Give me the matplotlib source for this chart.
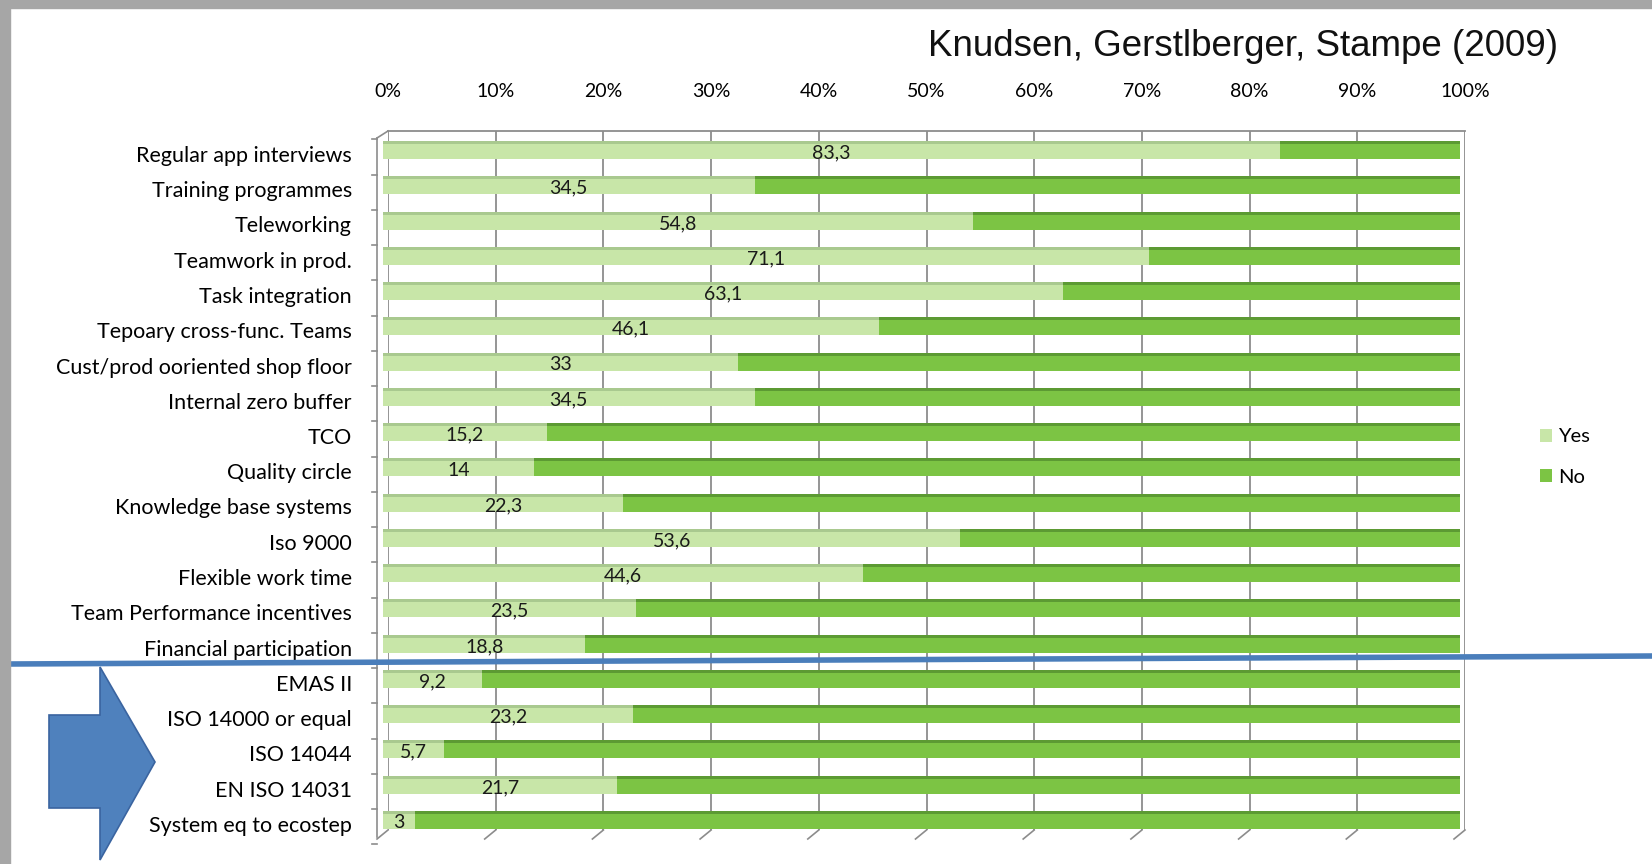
import numpy as np
import matplotlib
matplotlib.use("Agg")
import matplotlib.pyplot as plt
from matplotlib.patches import Patch, Polygon, Rectangle
from matplotlib.lines import Line2D
from matplotlib.transforms import ScaledTranslation

# ---------------------------------------------------------------------------
# Data (share of firms using each practice, %)
# ---------------------------------------------------------------------------

categories = [
    "Regular app interviews", "Training programmes", "Teleworking",
    "Teamwork in prod.", "Task integration", "Tepoary cross-func. Teams",
    "Cust/prod ooriented shop floor", "Internal zero buffer", "TCO",
    "Quality circle", "Knowledge base systems", "Iso 9000",
    "Flexible work time", "Team Performance incentives",
    "Financial participation", "EMAS II", "ISO 14000 or equal",
    "ISO 14044", "EN ISO 14031", "System eq to ecostep",
]
yes_values = [83.3, 34.5, 54.8, 71.1, 63.1, 46.1, 33, 34.5, 15.2, 14,
              22.3, 53.6, 44.6, 23.5, 18.8, 9.2, 23.2, 5.7, 21.7, 3]
no_values = [100 - v for v in yes_values]
x_ticks = [0, 10, 20, 30, 40, 50, 60, 70, 80, 90, 100]
x_tick_labels = [f"{t}%" for t in x_ticks]
series_names = ["Yes", "No"]
title = "Knudsen, Gerstlberger, Stampe (2009)"

# ---------------------------------------------------------------------------
# Style
# ---------------------------------------------------------------------------

W, H, DPI = 1652, 864, 100
YES_COLOR, YES_TOP = "#c8e6a8", "#a9c98f"
NO_COLOR, NO_TOP = "#7cc444", "#5c9a33"
GRID_COLOR = "#8c8c8c"
BLUE = "#4a7ebb"
LABEL_FONT = ["Lato", "DejaVu Sans"]
TITLE_FONT = ["Liberation Sans", "DejaVu Sans"]

fig = plt.figure(figsize=(W / DPI, H / DPI), dpi=DPI)
fig.patch.set_facecolor("white")

# back wall of the (pseudo 3D) plot area, in pixels
left, right, top, bottom = 388, 1465, 131, 830
ax = fig.add_axes([left / W, 1 - bottom / H, (right - left) / W, (bottom - top) / H])

n = len(categories)
y = np.arange(n)
row_px = 35.25
ax.set_xlim(0, 100)
ax.set_ylim((bottom - 150) / row_px, (top - 150) / row_px)

bar_h = 18 / row_px
top_h = 3 / row_px
bar_shift = ax.transData + ScaledTranslation(-5 / DPI, 0, fig.dpi_scale_trans)
text_shift = ax.transData + ScaledTranslation(-5 / DPI, -3 / DPI, fig.dpi_scale_trans)

yes_bars = ax.barh(y, yes_values, height=bar_h, color=YES_COLOR, zorder=3)
no_bars = ax.barh(y, no_values, left=yes_values, height=bar_h, color=NO_COLOR, zorder=3)
yes_tops = ax.barh(y - bar_h / 2 + top_h / 2, yes_values, height=top_h, color=YES_TOP, zorder=4)
no_tops = ax.barh(y - bar_h / 2 + top_h / 2, no_values, left=yes_values, height=top_h,
                  color=NO_TOP, zorder=4)
for group in (yes_bars, no_bars, yes_tops, no_tops):
    for p in group:
        p.set_transform(bar_shift)
        p.set_clip_on(False)

for yi, v in zip(y, yes_values):
    ax.text(v / 2, yi, f"{v:g}".replace(".", ","), ha="center", va="center",
            fontsize=14, family=LABEL_FONT, color="#1a1a1a", zorder=5,
            transform=text_shift, clip_on=False)

# axes, grid, ticks
for s in ax.spines.values():
    s.set_visible(False)
ax.spines["top"].set_visible(True)
ax.spines["top"].set_color(GRID_COLOR)
ax.spines["top"].set_linewidth(1.3)
ax.set_xticks(x_ticks)
ax.set_xticklabels(x_tick_labels, family=LABEL_FONT, fontsize=14)
ax.xaxis.tick_top()
ax.set_yticks(y)
ax.set_yticklabels(categories, family=LABEL_FONT, fontsize=15.5)
ax.tick_params(axis="x", length=0, pad=22)
ax.tick_params(axis="y", length=0, pad=26)
label_drop = ScaledTranslation(0, -4 / DPI, fig.dpi_scale_trans)
for lab in ax.get_yticklabels():
    lab.set_transform(lab.get_transform() + label_drop)
ax.grid(axis="x", color=GRID_COLOR, lw=1.3, zorder=1)
ax.set_axisbelow(True)

# front edge of the floor/left wall
front = ax.get_yaxis_transform() + ScaledTranslation(-11 / DPI, -7 / DPI, fig.dpi_scale_trans)
y0, y1 = ax.get_ylim()[1], ax.get_ylim()[0]
ax.add_line(Line2D([0, 0], [y0, y1], transform=front, color=GRID_COLOR, lw=1.2, clip_on=False))
for b in np.arange(-0.5, n, 1.0):
    ax.add_line(Line2D([-5 / (right - left), 0], [b, b], transform=front,
                       color=GRID_COLOR, lw=1.2, clip_on=False))
ax.add_line(Line2D([0, -11 / (right - left)], [y0, y0 + 7 / row_px],
                   transform=ax.get_yaxis_transform(), color=GRID_COLOR, lw=1.2, clip_on=False))
for t in x_ticks:
    ax.add_line(Line2D([t, t - 11 * 100 / (right - left)], [y1, y1 + 9 / row_px],
                       color=GRID_COLOR, lw=1.2, clip_on=False))

# title and legend
fig.text(1243 / W, 1 - 46 / H, title, ha="center", va="center",
         fontsize=26.5, family=TITLE_FONT, color="#111111")
handles = [Patch(facecolor=YES_COLOR), Patch(facecolor=NO_COLOR)]
fig.legend(handles, series_names, loc="center left",
           bbox_to_anchor=(1522 / W, 1 - 457 / H), frameon=False,
           prop={"family": LABEL_FONT, "size": 14.5},
           handlelength=0.6, handleheight=0.6, handletextpad=0.3, labelspacing=1.15)

# grey border of the slide
fig.add_artist(Rectangle((0, 1 - 8 / H), 1, 8 / H, transform=fig.transFigure,
                         color="#a6a6a6", zorder=10))
fig.add_artist(Rectangle((0, 0), 10 / W, 1, transform=fig.transFigure,
                         color="#a6a6a6", zorder=10))

# blue separator line and arrow
fig.add_artist(Line2D([10 / W, 1], [1 - 664 / H, 1 - 656 / H], transform=fig.transFigure,
                      color=BLUE, lw=4, zorder=9))
arrow_px = [(49, 715), (100, 715), (100, 667), (155, 762), (100, 860), (100, 808), (49, 808)]
fig.add_artist(Polygon([(px / W, 1 - py / H) for px, py in arrow_px], closed=True,
                       transform=fig.transFigure, facecolor="#4f81bd",
                       edgecolor="#3a64a0", lw=1.2, zorder=9))

fig.savefig("out.png", dpi=DPI)
